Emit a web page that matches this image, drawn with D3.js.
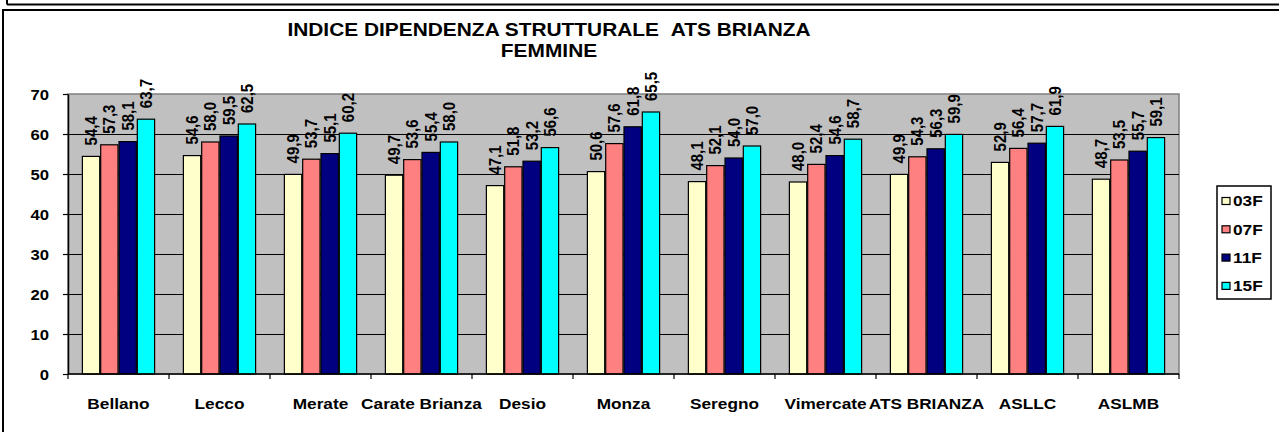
<!DOCTYPE html>
<html lang="it">
<head>
<meta charset="UTF-8">
<title>Indice dipendenza strutturale ATS Brianza - Femmine</title>
<script src="https://d3js.org/d3.v7.min.js"></script>
<style>
    body { margin: 0; background: #fff; }
    svg text { font-family: "Liberation Sans", Arial, sans-serif; font-weight: bold; fill: #000; }
</style>
</head>
<body>
<div id="chart"></div>
<script>
    const categories = ["Bellano", "Lecco", "Merate", "Carate Brianza", "Desio", "Monza",
                        "Seregno", "Vimercate", "ATS BRIANZA", "ASLLC", "ASLMB"];
    const seriesNames = ["03F", "07F", "11F", "15F"];
    const v03F = [54.4, 54.6, 49.9, 49.7, 47.1, 50.6, 48.1, 48.0, 49.9, 52.9, 48.7];
    const v07F = [57.3, 58.0, 53.7, 53.6, 51.8, 57.6, 52.1, 52.4, 54.3, 56.4, 53.5];
    const v11F = [58.1, 59.5, 55.1, 55.4, 53.2, 61.8, 54.0, 54.6, 56.3, 57.7, 55.7];
    const v15F = [63.7, 62.5, 60.2, 58.0, 56.6, 65.5, 57.0, 58.7, 59.9, 61.9, 59.1];
    const yTicks = [0, 10, 20, 30, 40, 50, 60, 70];
    const colors = ["#FFFFCC", "#FF8080", "#000080", "#00FFFF"];

    const seriesValues = [v03F, v07F, v11F, v15F];
    const rows = categories.map((c, i) => ({
        cat: c,
        vals: seriesNames.map((s, j) => ({ key: s, value: seriesValues[j][i] }))
    }));

    const W = 1279, H = 432;
    const plot = { left: 68, right: 1179, top: 94, bottom: 374 };
    const sx = 1.15; // the source picture is stretched a bit horizontally

    const svg = d3.select("#chart").append("svg")
        .attr("width", W)
        .attr("height", H);

    // frames of the page
    svg.append("line").attr("x1", 7).attr("x2", W + 10).attr("y1", 4.5).attr("y2", 4.5)
        .attr("stroke", "#000").attr("stroke-width", 2);
    svg.append("line").attr("x1", 7).attr("x2", 7).attr("y1", -5).attr("y2", 4.5)
        .attr("stroke", "#000").attr("stroke-width", 2);
    svg.append("rect").attr("x", 3).attr("y", 10).attr("width", W + 20).attr("height", H + 20)
        .attr("fill", "none").attr("stroke", "#000").attr("stroke-width", 2);

    const x0 = d3.scaleBand()
        .domain(categories)
        .range([plot.left, plot.right])
        .paddingInner(0.275)
        .paddingOuter(0.1375);
    const x1 = d3.scaleBand()
        .domain(seriesNames)
        .range([0, x0.bandwidth()]);
    const y = d3.scaleLinear().domain([0, 70]).range([plot.bottom, plot.top]);
    const color = d3.scaleOrdinal().domain(seriesNames).range(colors);

    // plot area
    svg.append("rect")
        .attr("x", plot.left).attr("y", plot.top)
        .attr("width", plot.right - plot.left).attr("height", plot.bottom - plot.top)
        .attr("fill", "#C0C0C0").attr("stroke", "#808080").attr("stroke-width", 1.5);

    // gridlines
    svg.append("g").selectAll("line")
        .data(yTicks.filter(t => t > 0 && t < 70))
        .enter().append("line")
        .attr("x1", plot.left).attr("x2", plot.right)
        .attr("y1", d => Math.round(y(d)) + 0.5).attr("y2", d => Math.round(y(d)) + 0.5)
        .attr("stroke", "#000").attr("stroke-width", 1.2);

    // bars
    const groups = svg.append("g").selectAll("g")
        .data(rows)
        .enter().append("g")
        .attr("transform", d => "translate(" + x0(d.cat) + ",0)");

    groups.selectAll("rect")
        .data(d => d.vals)
        .enter().append("rect")
        .attr("x", d => x1(d.key) + 0.5)
        .attr("y", d => y(d.value))
        .attr("width", x1.bandwidth() - 1)
        .attr("height", d => plot.bottom - y(d.value))
        .attr("fill", d => color(d.key))
        .attr("stroke", "#000").attr("stroke-width", 1.2);

    // value labels
    groups.selectAll("text")
        .data(d => d.vals)
        .enter().append("text")
        .attr("transform", d => "translate(" + (x1(d.key) + x1.bandwidth() / 2) + "," + (y(d.value) - 11) + ") scale(" + sx + ",1) rotate(-90)")
        .attr("dy", "0.35em")
        .style("font-size", "15px")
        .text(d => d.value.toFixed(1).replace(".", ","));

    // y axis
    const yAxis = svg.append("g")
        .attr("transform", "translate(" + plot.left + ",0)")
        .call(d3.axisLeft(y).tickValues(yTicks).tickSize(5).tickSizeOuter(0));
    yAxis.select(".domain").attr("stroke", "#000").attr("stroke-width", 1.5);
    yAxis.selectAll(".tick line").attr("stroke", "#000").attr("stroke-width", 1.2);
    yAxis.selectAll(".tick text")
        .attr("x", -19 / sx)
        .attr("dy", "0.36em")
        .attr("transform", "scale(" + sx + ",1)")
        .style("font-size", "14.5px")
        .style("font-family", null);

    // x axis: labels at band centres, ticks at band boundaries
    const xAxis = svg.append("g")
        .attr("transform", "translate(0," + plot.bottom + ")")
        .call(d3.axisBottom(x0).tickSize(0).tickPadding(0));
    xAxis.select(".domain").remove();
    xAxis.selectAll(".tick text")
        .attr("y", 0)
        .attr("dy", 0)
        .each(function () {
            const t = d3.select(this.parentNode).attr("transform");
            d3.select(this.parentNode).attr("transform", t + " translate(0,35) scale(" + sx + ",1)");
        })
        .style("font-size", "15px")
        .style("font-family", null);

    const step = x0.step();
    const bounds = d3.range(categories.length + 1).map(i => plot.left + i * step);
    svg.append("line")
        .attr("x1", plot.left).attr("x2", plot.right)
        .attr("y1", plot.bottom).attr("y2", plot.bottom)
        .attr("stroke", "#000").attr("stroke-width", 1.5);
    svg.append("g").selectAll("line")
        .data(bounds)
        .enter().append("line")
        .attr("x1", d => d).attr("x2", d => d)
        .attr("y1", plot.bottom).attr("y2", plot.bottom + 5)
        .attr("stroke", "#000").attr("stroke-width", 1.2);

    // title
    const title = svg.append("g").attr("transform", "translate(549,0) scale(1.13,1)");
    title.append("text")
        .attr("y", 36)
        .attr("text-anchor", "middle")
        .style("font-size", "18.5px")
        .text("INDICE DIPENDENZA STRUTTURALE\u00a0\u00a0ATS BRIANZA");
    title.append("text")
        .attr("y", 57)
        .attr("text-anchor", "middle")
        .style("font-size", "18.5px")
        .text("FEMMINE");

    // legend
    const legend = svg.append("g");
    legend.append("rect")
        .attr("x", 1217).attr("y", 186)
        .attr("width", 54).attr("height", 113)
        .attr("fill", "#fff").attr("stroke", "#000").attr("stroke-width", 1.5);
    const items = legend.selectAll("g.item")
        .data(seriesNames)
        .enter().append("g")
        .attr("class", "item")
        .attr("transform", (d, i) => "translate(1222," + (201 + i * 28.3) + ")");
    items.append("rect")
        .attr("x", 0).attr("y", -3.5)
        .attr("width", 8).attr("height", 7)
        .attr("fill", d => color(d))
        .attr("stroke", "#000").attr("stroke-width", 1.2);
    items.append("text")
        .attr("transform", "translate(11,0) scale(" + sx + ",1)")
        .attr("dy", "0.36em")
        .style("font-size", "15px")
        .text(d => d);
</script>
</body>
</html>
